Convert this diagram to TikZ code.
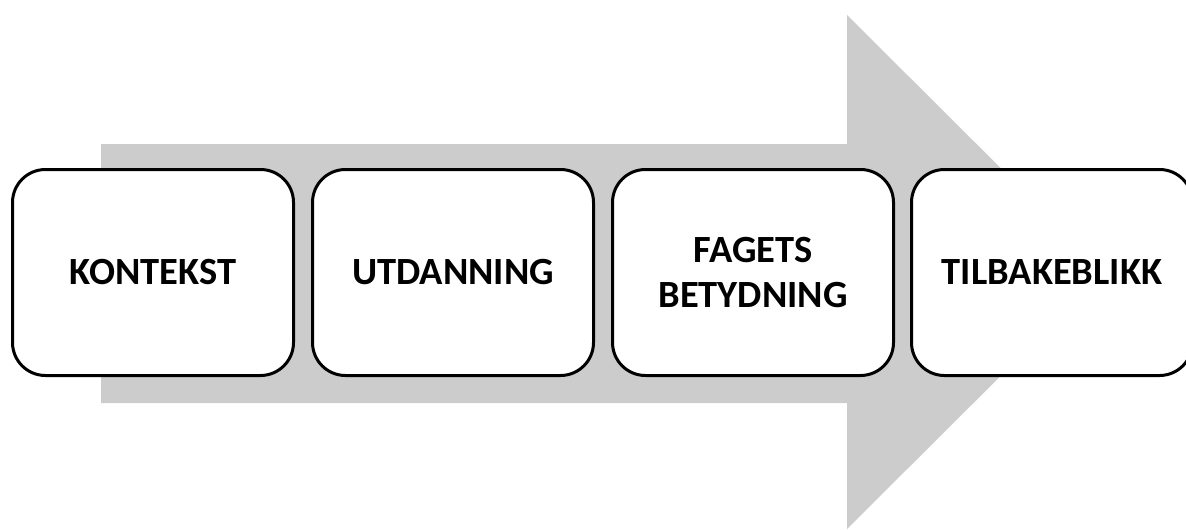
\documentclass[tikz,border=0pt]{standalone}
\usepackage{fontspec}
\setmainfont{Carlito}
\begin{document}
\begin{tikzpicture}[x=1pt,y=-1pt,
  stage/.style={draw=black, line width=3pt, fill=white, rounded corners=33pt,
    minimum width=281pt, minimum height=206pt, inner sep=0pt,
    font=\fontsize{38.5}{45}\selectfont\bfseries, align=center, text=black}]
\useasboundingbox (0,0) rectangle (1186,530);
\clip (0,0) rectangle (1186,530);
\definecolor{arrowgray}{HTML}{CCCCCC}
\fill[arrowgray] (101,144) -- (847,144) -- (847,15) -- (1105,272) -- (847,529) -- (847,403) -- (101,403) -- cycle;
\node[stage] (k) at (153,272.5) {KONTEKST};
\node[stage] (u) at (453,272.5) {UTDANNING};
\node[stage] (f) at (753,272.5) {FAGETS\\BETYDNING};
\node[stage] (t) at (1052,272.5) {TILBAKEBLIKK};
\end{tikzpicture}
\end{document}
